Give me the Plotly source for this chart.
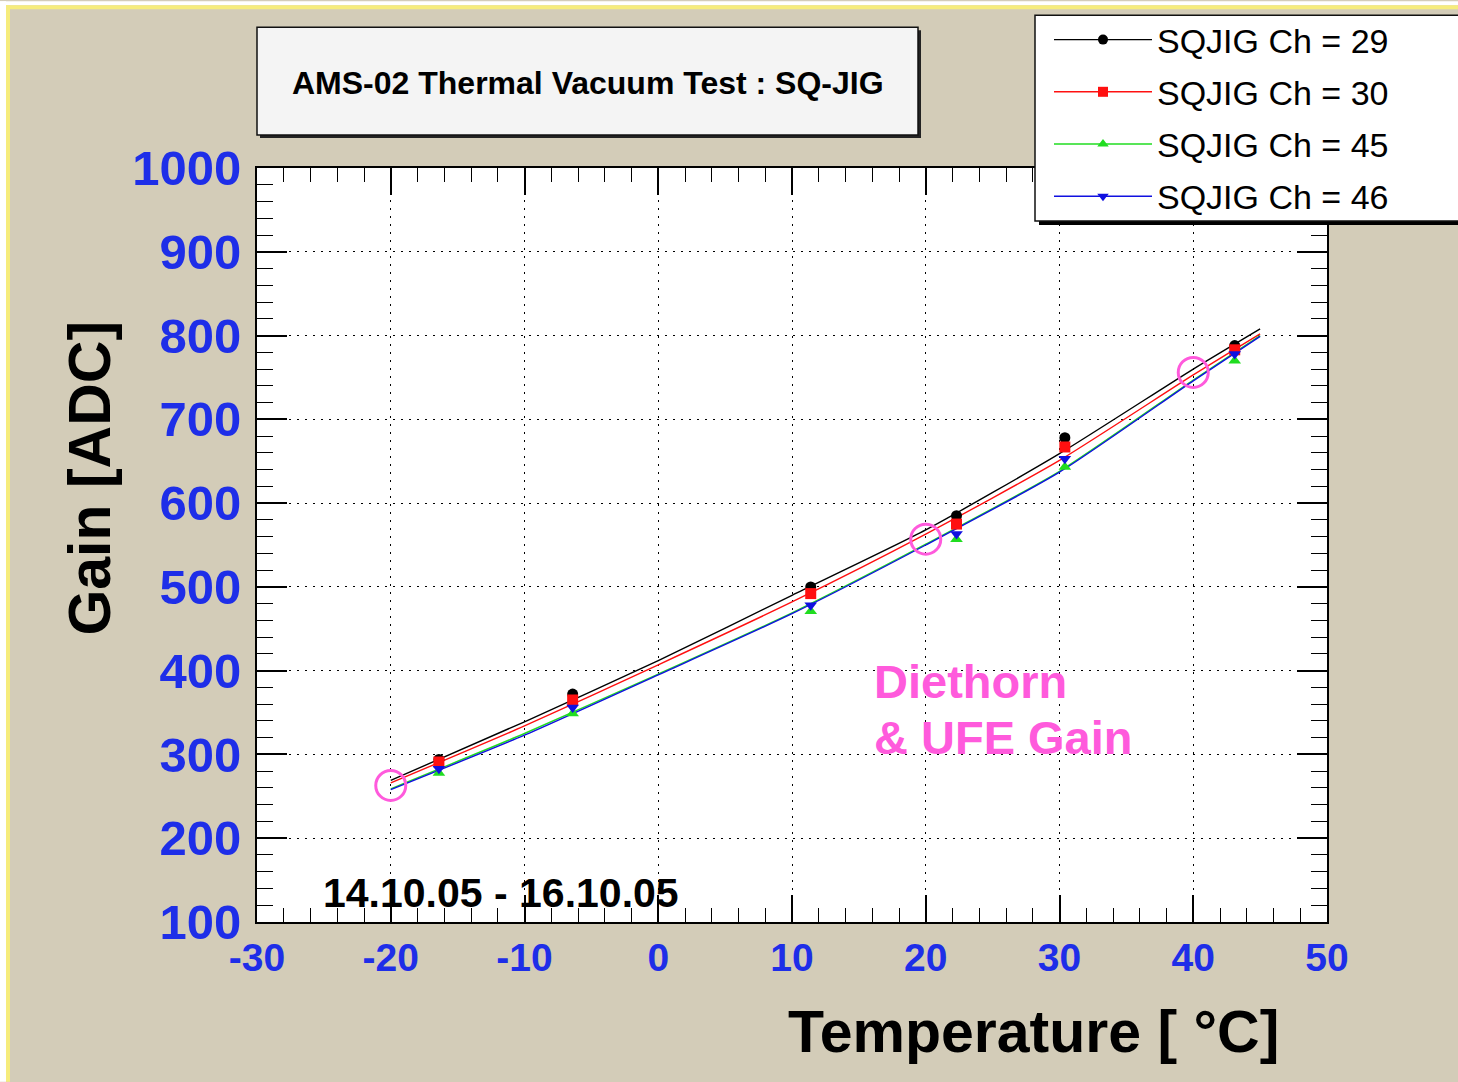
import plotly.graph_objects as go

# ---------------- data ----------------
channels = ["SQJIG Ch = 29", "SQJIG Ch = 30", "SQJIG Ch = 45", "SQJIG Ch = 46"]
colors = ["#000000", "#FF1010", "#20DD20", "#1010E0"]
symbols = ["circle", "square", "triangle-up", "triangle-down"]

# measured gain points (temperature in °C, gain in ADC)
temp_points = [-16.4, -6.4, 11.4, 22.3, 30.4, 43.1]
gain_ch29 = [294, 372, 500, 585, 678, 788]
gain_ch30 = [291, 365, 492, 575, 667, 783]
gain_ch45 = [278, 349, 471, 557, 643, 770]
gain_ch46 = [283, 356, 478, 563, 653, 778]

# Diethorn & UFE gain model curves
fit_temp = [-20, -10, 0, 10, 20, 30, 40, 45]
fit_ch29 = [269, 339, 412, 490, 568, 659, 760, 808]
fit_ch30 = [266, 334, 407, 482, 563, 651, 753, 802]
fit_ch45 = [259, 325, 396, 469, 551, 638, 747, 800]
fit_ch46 = [258, 323, 395, 468, 550, 637, 746, 799]

# highlighted reference points (magenta circles)
highlight_temp = [-20, 20, 40]
highlight_gain = [263, 557, 756]

# tick labels
x_tick_vals = [-30, -20, -10, 0, 10, 20, 30, 40, 50]
x_tick_text = ["-30", "-20", "-10", "0", "10", "20", "30", "40", "50"]

gains = [gain_ch29, gain_ch30, gain_ch45, gain_ch46]
fits = [fit_ch29, fit_ch30, fit_ch45, fit_ch46]

# ---------------- geometry helpers (pixel -> paper) ----------------
W, H = 1458, 1082
L, R, T, B = 257, 1327, 167, 922
def px(x):
    return (x - L) / (R - L)
def py(y):
    return (B - y) / (B - T)

FONT = "Liberation Sans, Arial, sans-serif"
TAN = "#D3CCB8"
BLUE = "#1E2EE8"
MAGENTA = "#FF5ADC"

fig = go.Figure()

# fit curves
for name, col, fy in zip(channels, colors, fits):
    fig.add_trace(go.Scatter(
        x=fit_temp, y=fy, mode="lines", showlegend=False, legendgroup=name,
        line=dict(color=col, width=1.4, shape="spline", smoothing=0.6),
        hoverinfo="skip"))

# measured points
for name, col, sym, gy in zip(channels, colors, symbols, gains):
    fig.add_trace(go.Scatter(
        x=temp_points, y=gy, mode="markers", showlegend=False, legendgroup=name,
        marker=dict(color=col, symbol=sym, size=11, line=dict(width=0))))

# legend entries
for name, col, sym in zip(channels, colors, symbols):
    fig.add_trace(go.Scatter(
        x=[None], y=[None], mode="lines+markers", name=name, legendgroup=name,
        line=dict(color=col, width=1.4),
        marker=dict(color=col, symbol=sym, size=10)))

# magenta highlight circles
fig.add_trace(go.Scatter(
    x=highlight_temp, y=highlight_gain, mode="markers", showlegend=False,
    marker=dict(symbol="circle-open", size=30, color=MAGENTA, line=dict(width=3, color=MAGENTA))))

shapes = [
    # white outer strips + yellow frame lines
    dict(type="rect", xref="paper", yref="paper", x0=px(0), x1=px(W), y0=py(4), y1=py(0),
         fillcolor="white", line=dict(width=0), layer="below"),
    dict(type="rect", xref="paper", yref="paper", x0=px(0), x1=px(6), y0=py(H), y1=py(0),
         fillcolor="white", line=dict(width=0), layer="below"),
    dict(type="rect", xref="paper", yref="paper", x0=px(6), x1=px(W), y0=py(8), y1=py(4),
         fillcolor="#F6EC7C", line=dict(width=0), layer="below"),
    dict(type="rect", xref="paper", yref="paper", x0=px(6), x1=px(10), y0=py(H), y1=py(4),
         fillcolor="#F6EC7C", line=dict(width=0), layer="below"),
    # title box (shadow + box)
    dict(type="rect", xref="paper", yref="paper", x0=px(260), x1=px(921), y0=py(137), y1=py(29),
         fillcolor="#222222", line=dict(width=0), layer="above"),
    dict(type="rect", xref="paper", yref="paper", x0=px(257), x1=px(918), y0=py(134), y1=py(26),
         fillcolor="#F4F4F4", line=dict(width=1.5, color="#111111"), layer="above"),
    # legend box (shadow + box)
    dict(type="rect", xref="paper", yref="paper", x0=px(1039), x1=px(1475), y0=py(224), y1=py(18),
         fillcolor="#000000", line=dict(width=0), layer="above"),
    dict(type="rect", xref="paper", yref="paper", x0=px(1035), x1=px(1475), y0=py(220), y1=py(14),
         fillcolor="#FFFFFF", line=dict(width=1.5, color="#111111"), layer="above"),
]

annotations = [
    dict(text="<b>AMS-02 Thermal Vacuum Test : SQ-JIG</b>", xref="paper", yref="paper",
         x=px(588), y=py(82), xanchor="center", yanchor="middle", showarrow=False,
         font=dict(family=FONT, size=32, color="black")),
    dict(text="<b>Gain [ADC]</b>", xref="paper", yref="paper", x=px(90), y=py(478),
         xanchor="center", yanchor="middle", textangle=-90, showarrow=False,
         font=dict(family=FONT, size=59, color="black")),
    dict(text="<b>Temperature [ °C]</b>", xref="paper", yref="paper", x=px(1281), y=py(1032),
         xanchor="right", yanchor="middle", showarrow=False,
         font=dict(family=FONT, size=59, color="black")),
    dict(text="<b>14.10.05 - 16.10.05</b>", xref="paper", yref="paper", x=px(321), y=py(893),
         xanchor="left", yanchor="middle", showarrow=False,
         font=dict(family=FONT, size=41, color="black")),
    dict(text="<b>Diethorn</b>", xref="paper", yref="paper", x=px(872), y=py(681),
         xanchor="left", yanchor="middle", showarrow=False,
         font=dict(family=FONT, size=47, color=MAGENTA)),
    dict(text="<b>& UFE Gain</b>", xref="paper", yref="paper", x=px(872), y=py(737),
         xanchor="left", yanchor="middle", showarrow=False,
         font=dict(family=FONT, size=47, color=MAGENTA)),
]

fig.update_layout(
    width=W, height=H,
    margin=dict(l=L, r=W - R, t=T, b=H - B, pad=0),
    paper_bgcolor=TAN, plot_bgcolor="white",
    font=dict(family=FONT),
    shapes=shapes, annotations=annotations,
    showlegend=True,
    legend=dict(x=px(1049), y=py(11), xanchor="left", yanchor="top",
                xref="paper", yref="paper",
                bgcolor="rgba(0,0,0,0)", borderwidth=0,
                font=dict(family=FONT, size=34, color="black"),
                itemwidth=98, tracegroupgap=5, traceorder="grouped"),
)

fig.update_xaxes(
    range=[-30, 50], tickmode="array", tickvals=x_tick_vals, ticktext=x_tick_text,
    showline=True, linecolor="black", linewidth=2, mirror="allticks",
    ticks="inside", ticklen=27, tickwidth=1.5, tickcolor="black",
    showgrid=True, gridcolor="black", gridwidth=1.3, griddash="2px,6px",
    zeroline=False,
    tickfont=dict(family=FONT, size=39, color=BLUE, weight="bold"),
    ticklabelstandoff=0,
    minor=dict(tickmode="linear", tick0=0, dtick=2, ticks="inside", ticklen=14, tickwidth=1.3,
               tickcolor="black", showgrid=False),
)
fig.update_yaxes(
    range=[100, 1000], tick0=0, dtick=100,
    showline=True, linecolor="black", linewidth=2, mirror="allticks",
    ticks="inside", ticklen=30, tickwidth=1.5, tickcolor="black",
    showgrid=True, gridcolor="black", gridwidth=1.3, griddash="2px,6px",
    zeroline=False,
    tickfont=dict(family=FONT, size=49, color=BLUE, weight="bold"),
    ticklabelstandoff=4,
    minor=dict(dtick=20, ticks="inside", ticklen=16, tickwidth=1.3, tickcolor="black", showgrid=False),
)

fig.write_html("out.html")
